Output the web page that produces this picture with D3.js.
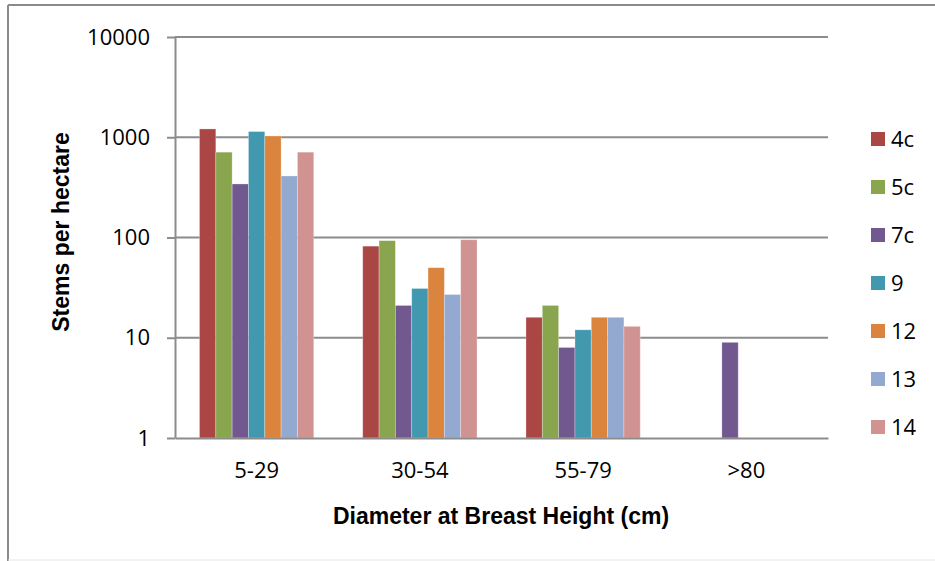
<!DOCTYPE html>
<html lang="en">
<head>
    <meta charset="UTF-8">
    <title>Stems per hectare by diameter class</title>
    <script src="https://d3js.org/d3.v7.min.js"></script>
    <style>
        body { margin: 0; background: #fff; }
        svg { display: block; }
        text { font-family: "Open Sans", sans-serif; fill: #000; }
        .axis-title { font-size: 23px; font-weight: bold; font-family: "Liberation Sans", sans-serif; }
        .legend text { font-size: 22px; }
    </style>
</head>
<body>
    <svg width="935" height="561"></svg>
    <script>
        // Data
        const categories = ["5-29", "30-54", "55-79", ">80"];
        const seriesNames = ["4c", "5c", "7c", "9", "12", "13", "14"];
        const colors = ["#AA4643", "#89A54E", "#71588F", "#4198AF", "#DB843D", "#93A9CF", "#D19392"];
        // values[series][category], null = no bar
        const values = [
            [1210, 82, 16, null],
            [710, 93, 21, null],
            [342, 21, 8, 9],
            [1140, 31, 12, null],
            [1030, 50, 16, null],
            [411, 27, 16, null],
            [710, 95, 13, null]
        ];
        const yTicks = [1, 10, 100, 1000, 10000];

        const plot = {left: 175, right: 828, top: 37, bottom: 438};
        const svg = d3.select("svg");

        // chart area border (left / top edges visible)
        svg.append("line").attr("x1", 8).attr("x2", 8).attr("y1", 5).attr("y2", 561)
            .attr("stroke", "#8a8a8a").attr("stroke-width", 2);
        svg.append("line").attr("x1", 8).attr("x2", 935).attr("y1", 5).attr("y2", 5)
            .attr("stroke", "#8a8a8a").attr("stroke-width", 2);
        svg.append("line").attr("x1", 8).attr("x2", 935).attr("y1", 560).attr("y2", 560)
            .attr("stroke", "#e6e6e6").attr("stroke-width", 1);

        const y = d3.scaleLog().domain([1, 10000]).range([plot.bottom, plot.top]);
        const x0 = d3.scaleBand().domain(categories)
            .range([plot.left, plot.right]).paddingInner(0.3).paddingOuter(0.15);
        const x1 = d3.scaleBand().domain(seriesNames).range([0, x0.bandwidth()]);

        // gridlines
        svg.append("g").selectAll("line")
            .data(yTicks.slice(1))
            .join("line")
            .attr("x1", plot.left).attr("x2", plot.right)
            .attr("y1", d => y(d)).attr("y2", d => y(d))
            .attr("stroke", "#8c8c8c").attr("stroke-width", 2);

        // bars
        const rows = [];
        seriesNames.forEach((s, i) => {
            categories.forEach((c, j) => {
                if (values[i][j] != null) rows.push({s, c, v: values[i][j], color: colors[i]});
            });
        });
        svg.append("g").selectAll("rect")
            .data(rows)
            .join("rect")
            .attr("x", d => x0(d.c) + x1(d.s))
            .attr("y", d => y(d.v))
            .attr("width", x1.bandwidth())
            .attr("height", d => y(1) - y(d.v))
            .attr("fill", d => d.color)
            .attr("stroke", "#fff").attr("stroke-opacity", 0.35).attr("stroke-width", 0.8);

        // y axis
        const yAxis = svg.append("g")
            .attr("transform", `translate(${plot.left},0)`)
            .call(d3.axisLeft(y).tickValues(yTicks).tickFormat(d3.format("d")).tickSize(8).tickSizeOuter(0).tickPadding(17));
        yAxis.select(".domain").attr("stroke", "#8c8c8c").attr("stroke-width", 2);
        yAxis.selectAll(".tick line").attr("stroke", "#8c8c8c").attr("stroke-width", 2);
        yAxis.selectAll(".tick text").style("font-size", "22px")
            .style("font-family", "Open Sans, sans-serif").attr("fill", "#000");

        // x axis
        const xAxis = svg.append("g")
            .attr("transform", `translate(0,${plot.bottom})`)
            .call(d3.axisBottom(x0).tickSize(0).tickSizeOuter(0).tickPadding(24));
        xAxis.select(".domain").attr("stroke", "#8c8c8c").attr("stroke-width", 2);
        xAxis.selectAll(".tick text").style("font-size", "22px")
            .style("font-family", "Open Sans, sans-serif").attr("fill", "#000");

        // axis titles
        svg.append("text").attr("class", "axis-title")
            .attr("x", 501).attr("y", 524)
            .attr("text-anchor", "middle")
            .text("Diameter at Breast Height (cm)");
        svg.append("text").attr("class", "axis-title")
            .attr("transform", "translate(69,232) rotate(-90)")
            .attr("text-anchor", "middle")
            .text("Stems per hectare");

        // legend
        const legend = svg.append("g").attr("class", "legend")
            .selectAll("g")
            .data(seriesNames)
            .join("g")
            .attr("transform", (d, i) => `translate(871,${139 + i * 48})`);
        legend.append("rect")
            .attr("x", 0).attr("y", -7).attr("width", 14).attr("height", 14)
            .attr("fill", (d, i) => colors[i]);
        legend.append("text")
            .attr("x", 20).attr("y", 0).attr("dy", "0.36em")
            .text(d => d);
    </script>
</body>
</html>
